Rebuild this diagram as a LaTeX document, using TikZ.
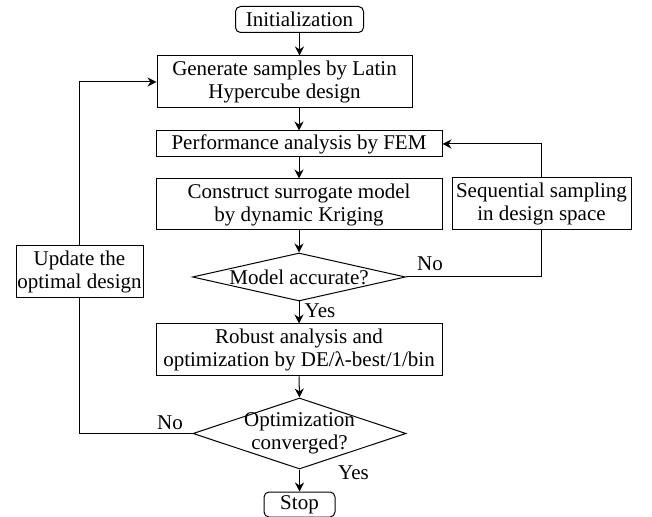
\documentclass[tikz,border=0pt]{standalone}
\usepackage{fontspec}
\setmainfont{Liberation Serif}
\usetikzlibrary{shapes.geometric,arrows.meta}
\begin{document}
\begin{tikzpicture}[x=0.5pt,y=-0.5pt,
  every node/.style={font=\fontsize{10.5}{11.5}\selectfont},
  procbox/.style={draw, line width=0.5pt, align=center, inner sep=0pt},
  termbox/.style={draw, line width=0.5pt, rounded corners=2.5pt, align=center, inner sep=0pt},
  decbox/.style={draw, line width=0.5pt, diamond, inner sep=0pt},
  lbl/.style={inner sep=0pt, align=center},
  conn/.style={line width=0.5pt},
  arr/.style={conn, -{Stealth[length=4.5pt,width=4.5pt,inset=1.5pt]}}]
\useasboundingbox (0,0) rectangle (652,517);

\node[termbox, minimum width=64pt, minimum height=13pt] (init) at (299.5,19.5) {Initialization};
\node[procbox, minimum width=127.5pt, minimum height=26pt] (gen) at (284.5,82) {Generate samples by Latin\\Hypercube design};
\node[procbox, minimum width=143pt, minimum height=13pt] (perf) at (299,144) {Performance analysis by FEM};
\node[procbox, minimum width=143pt, minimum height=25.5pt] (cons) at (299,204.5) {Construct surrogate model\\by dynamic Kriging};
\node[procbox, minimum width=89.5pt, minimum height=26pt] (seq) at (541.5,204) {Sequential sampling\\in design space};
\node[decbox, minimum width=106.5pt, minimum height=24pt] (dia1) at (299,277) {};
\node[lbl] (dia1t) at (299,277) {Model accurate?};
\node[procbox, minimum width=63.5pt, minimum height=26pt] (upd) at (79.5,272) {Update the\\optimal design};
\node[procbox, minimum width=143pt, minimum height=26pt] (rob) at (299,350) {Robust analysis and\\optimization by DE/λ-best/1/bin};
\node[decbox, minimum width=106.5pt, minimum height=35.5pt] (dia2) at (299.5,433.5) {};
\node[lbl] (dia2t) at (299.5,433) {Optimization\\converged?};
\node[termbox, minimum width=35.5pt, minimum height=12.5pt] (stop) at (299.5,504.5) {Stop};

\node[lbl] (yes1) at (320,311) {Yes};
\node[lbl] (no1) at (430,264) {No};
\node[lbl] (no2) at (170,423) {No};
\node[lbl] (yes2) at (353.5,473) {Yes};

\draw[arr] (init.south) -- (init.south |- gen.north);
\draw[arr] (perf.north |- gen.south) -- (perf.north);
\draw[arr] (perf.south) -- (cons.north);
\draw[arr] (cons.south) -- (dia1.north);
\draw[arr] (dia1.south) -- (rob.north);
\draw[arr] (rob.south) -- (dia2.north);
\draw[arr] (dia2.south) -- (stop.north);
\draw[conn] (dia1.east) -- (seq.south |- dia1.east) -- (seq.south);
\draw[arr] (seq.north) -- (seq.north |- perf.east) -- (perf.east);
\draw[conn] (dia2.west) -- (upd.south |- dia2.west) -- (upd.south);
\draw[arr] (upd.north) -- (upd.north |- gen.west) -- (gen.west);
\end{tikzpicture}
\end{document}
